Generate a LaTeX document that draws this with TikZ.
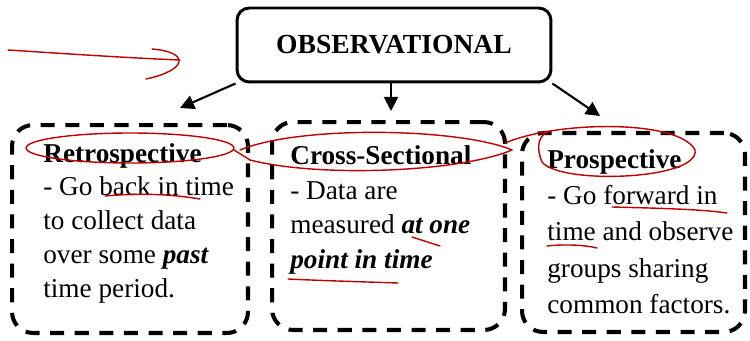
\documentclass[tikz,border=0pt]{standalone}
\usepackage{fontspec}
\setmainfont{Liberation Serif}
\usetikzlibrary{positioning}
\usetikzlibrary{arrows.meta}
\tikzset{obsbox/.style = {draw, line width=1.7pt, rounded corners=7pt,
                          minimum width=6.28cm, minimum height=1.48cm,
                          font=\fontsize{15.7}{19}\selectfont\bfseries}}
\tikzset{dbox/.style = {draw, line width=2.3pt, rounded corners=12pt,
                        dash pattern=on 8pt off 6pt}}
\tikzset{txt/.style = {anchor=north west, inner sep=0, align=left}}
\tikzset{arr/.style = {line width=1.2pt,
                       -{Triangle[length=8pt,width=8pt]}}}
\tikzset{pen/.style = {red!75!black, line width=0.8pt, line cap=round}}

\begin{document}
\begin{tikzpicture}[x=0.02cm, y=-0.02cm]
      \useasboundingbox (0,0) rectangle (750,341);

      \node[obsbox] (obs) at (394,45) {OBSERVATIONAL};

      \node[dbox, minimum width=4.72cm, minimum height=4.16cm] (retro) at (130,229) {};
      \node[dbox, minimum width=4.66cm, minimum height=4.16cm] (cross) at (388.5,226) {};
      \node[dbox, minimum width=4.46cm, minimum height=3.98cm] (pros) at (633.5,232.5) {};

      \node[txt, font=\fontsize{15.5}{19.2}\selectfont] (retrotext) at (43,143)
        {\textbf{Retrospective}\\- Go back in time\\to collect data\\
         over some \textbf{\textit{past}}\\time period.};
      \node[txt, font=\fontsize{15.5}{19.8}\selectfont] (crosstext) at (290,145)
        {\textbf{Cross-Sectional}\\- Data are\\measured \textbf{\textit{at one}}\\
         \textbf{\textit{point in time}}};
      \node[txt, font=\fontsize{15.5}{20.7}\selectfont] (prostext) at (547,149)
        {\textbf{Prospective}\\- Go forward in\\time and observe\\
         groups sharing\\common factors.};

      \coordinate (t1) at (180,108);
      \coordinate (t2) at (391,111);
      \coordinate (t3) at (600,116);
      \draw[arr] (obs.south west) -- (t1);
      \draw[arr] (obs.south -| t2) -- (t2);
      \draw[arr] (obs.south east) -- (t3);

      \draw[pen] (8,50) .. controls (70,54) and (130,58) .. (180,60);
      \draw[pen] (152,49) .. controls (190,52) and (188,70) .. (146,79);
      \draw[pen] (130,148) ellipse [x radius=104, y radius=15];
      \draw[pen] (234,150) -- (250,160);
      \draw[pen] (105,196) .. controls (140,193) and (170,194) .. (200,199);
      \draw[pen] (240,150) .. controls (300,125) and (460,128) .. (512,150);
      \draw[pen] (250,160) .. controls (320,178) and (460,172) .. (512,150);
      \draw[pen] (412,237) -- (440,246);
      \draw[pen] (288,279) .. controls (330,281) and (370,282) .. (398,283);
      \draw[pen] (505,143) .. controls (560,120) and (680,120) .. (695,150);
      \draw[pen] (695,150) .. controls (700,180) and (560,185) .. (542,162);
      \draw[pen] (542,162) .. controls (535,145) and (540,135) .. (548,132);
      \draw[pen] (612,207) .. controls (650,208) and (700,209) .. (727,213);
      \draw[pen] (547,246) .. controls (565,244) and (585,245) .. (597,248);
    \end{tikzpicture}
\end{document}
